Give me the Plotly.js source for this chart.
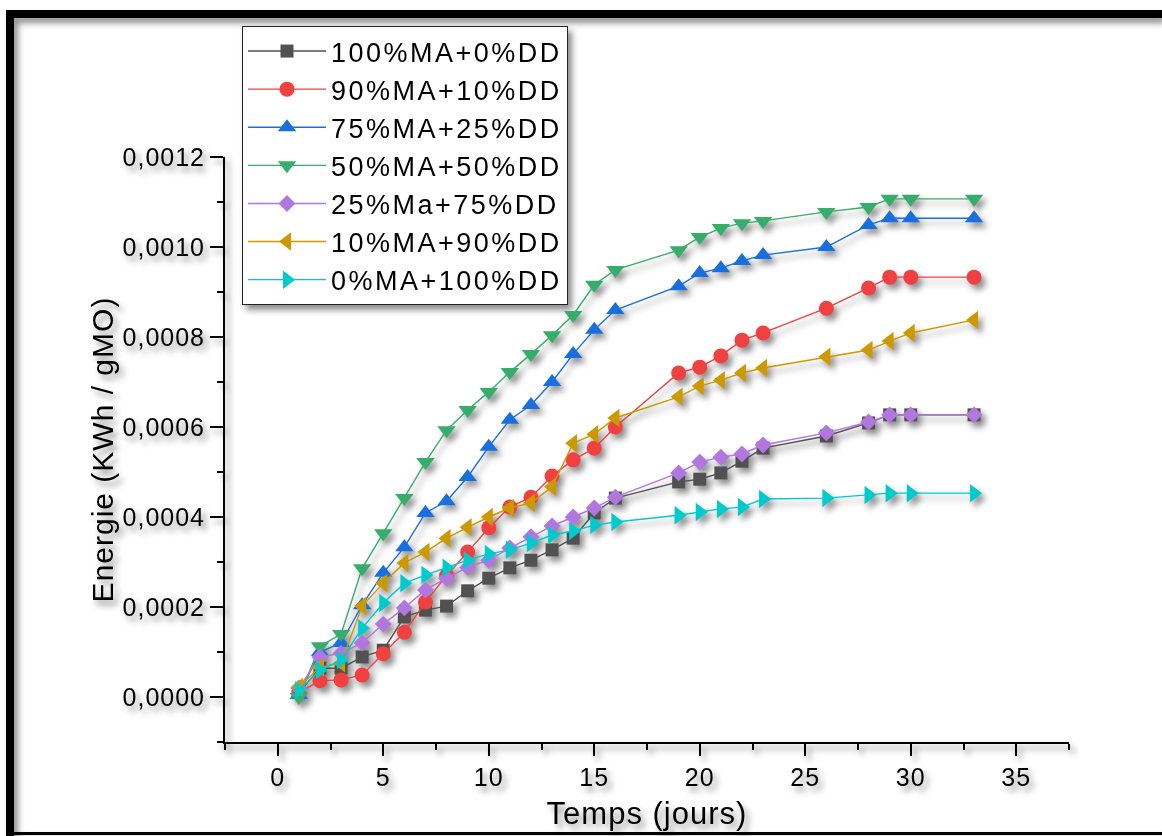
<!DOCTYPE html>
<html>
<head>
<meta charset="utf-8">
<script src="https://cdn.plot.ly/plotly-3.0.1.min.js"></script>
<style>
  html, body { margin: 0; padding: 0; background: #ffffff; }
  #chart { width: 1162px; height: 836px; filter: drop-shadow(4px 5px 3px rgba(0,0,0,0.45)); }
  text.legendtext { letter-spacing: 2.5px; }
  #chart .xtick text, #chart .ytick text, #chart text.xtitle, #chart text.ytitle { letter-spacing: 1px; }
</style>
</head>
<body>
<div id="chart"></div>
<script>
// Days (x values)
const days = [1,2,3,4,5,6,7,8,9,10,11,12,13,14,15,16,19,20,21,22,23,26,28,29,30,33];

// Series names
const seriesNames = ["100%MA+0%DD","90%MA+10%DD","75%MA+25%DD","50%MA+50%DD","25%Ma+75%DD","10%MA+90%DD","0%MA+100%DD"];

// Series values (KWh / gMO)
const ma100 = [0.000010,0.000064,0.000064,0.000089,0.000104,0.000178,0.000193,0.000202,0.000236,0.000264,0.000287,0.000304,0.000327,0.000353,0.000409,0.000442,0.000478,0.000484,0.000498,0.000524,0.000553,0.000580,0.000609,0.000627,0.000627,0.000627];
const ma90  = [0.000010,0.000036,0.000038,0.000049,0.000096,0.000144,0.000211,0.000270,0.000322,0.000376,0.000422,0.000444,0.000491,0.000527,0.000553,0.000600,0.000720,0.000733,0.000758,0.000793,0.000809,0.000864,0.000909,0.000933,0.000933,0.000933];
const ma75  = [0.000005,0.000100,0.000120,0.000204,0.000276,0.000333,0.000409,0.000435,0.000489,0.000556,0.000616,0.000649,0.000700,0.000762,0.000816,0.000860,0.000913,0.000942,0.000953,0.000969,0.000982,0.001000,0.001049,0.001064,0.001064,0.001064];
const ma50  = [0.000000,0.000113,0.000140,0.000286,0.000364,0.000442,0.000522,0.000593,0.000638,0.000678,0.000722,0.000762,0.000804,0.000849,0.000916,0.000949,0.000993,0.001022,0.001042,0.001053,0.001058,0.001078,0.001089,0.001107,0.001107,0.001107];
const ma25  = [0.000020,0.000089,0.000097,0.000120,0.000162,0.000198,0.000238,0.000264,0.000288,0.000304,0.000331,0.000356,0.000380,0.000400,0.000420,0.000444,0.000498,0.000522,0.000533,0.000540,0.000560,0.000587,0.000611,0.000627,0.000627,0.000627];
const ma10  = [0.000022,0.000066,0.000075,0.000202,0.000253,0.000298,0.000322,0.000353,0.000377,0.000400,0.000420,0.000431,0.000467,0.000564,0.000584,0.000620,0.000667,0.000691,0.000704,0.000720,0.000731,0.000756,0.000771,0.000791,0.000809,0.000838];
const ma0   = [0.000015,0.000060,0.000082,0.000153,0.000209,0.000253,0.000271,0.000287,0.000304,0.000318,0.000327,0.000342,0.000360,0.000369,0.000382,0.000389,0.000404,0.000411,0.000418,0.000422,0.000440,0.000442,0.000449,0.000453,0.000453,0.000453];

const allSeries = [ma100, ma90, ma75, ma50, ma25, ma10, ma0];
const colors  = ["#515151","#F14040","#1A6FDF","#37AD6B","#B177DE","#CC9900","#00CBCC"];
const symbols = ["square","circle","triangle-up","triangle-down","diamond","triangle-left","triangle-right"];
const sizes   = [13,15,16,16,13,16,16];

const traces = allSeries.map((vals, i) => ({
  type: "scatter",
  mode: "lines+markers",
  name: seriesNames[i],
  x: days,
  y: vals,
  line: { color: colors[i], width: 1.4 },
  marker: { symbol: symbols[i], size: sizes[i], color: colors[i], line: { width: 0 } },
  hoverinfo: "skip"
}));

// frame helpers (pixel -> paper)
const L = 225, R = 1069, T = 157, B = 742;
const px = v => (v - L) / (R - L);
const py = v => (B - v) / (B - T);

const layout = {
  width: 1162, height: 836,
  margin: { l: L, r: 1162 - R, t: T, b: 836 - B, pad: 0 },
  paper_bgcolor: "rgba(0,0,0,0)",
  plot_bgcolor: "rgba(0,0,0,0)",
  separators: ", ",
  font: { family: "Liberation Sans, Arial, sans-serif", color: "#000" },
  showlegend: true,
  legend: {
    x: px(242), y: py(26), xanchor: "left", yanchor: "top",
    bgcolor: "#ffffff", bordercolor: "#222", borderwidth: 1,
    font: { size: 27, color: "#000" },
    itemwidth: 78, tracegroupgap: 0
  },
  xaxis: {
    range: [-2.5, 37.5], dtick: 5, tick0: 0,
    showgrid: false, zeroline: false,
    showline: true, linecolor: "#000", linewidth: 2,
    ticks: "outside", ticklen: 12, tickwidth: 2, tickcolor: "#000",
    minor: { dtick: 2.5, ticks: "outside", ticklen: 6, tickwidth: 2, tickcolor: "#000", showgrid: false },
    tickfont: { size: 25 },
    title: { text: "Temps (jours)", font: { size: 31 }, standoff: 12 }
  },
  yaxis: {
    range: [-0.0001, 0.0012], dtick: 0.0002, tick0: 0,
    tickformat: ".4f",
    showgrid: false, zeroline: false,
    showline: true, linecolor: "#000", linewidth: 2,
    ticks: "outside", ticklen: 13, tickwidth: 2, tickcolor: "#000",
    minor: { dtick: 0.0001, ticks: "outside", ticklen: 6, tickwidth: 2, tickcolor: "#000", showgrid: false },
    tickfont: { size: 25 },
    title: { text: "Energie (KWh / gMO)", font: { size: 30 }, standoff: 6 }
  },
  shapes: [
    { type: "rect", xref: "paper", yref: "paper", x0: px(6), x1: px(14), y0: py(836), y1: py(10), fillcolor: "#000", line: { width: 0 } },
    { type: "rect", xref: "paper", yref: "paper", x0: px(6), x1: px(1162), y0: py(18), y1: py(10), fillcolor: "#000", line: { width: 0 } },
    { type: "rect", xref: "paper", yref: "paper", x0: px(6), x1: px(1162), y0: py(835), y1: py(832), fillcolor: "#000", line: { width: 0 } }
  ],
  hovermode: false
};

Plotly.newPlot("chart", traces, layout, { displayModeBar: false, staticPlot: true });
</script>
</body>
</html>
